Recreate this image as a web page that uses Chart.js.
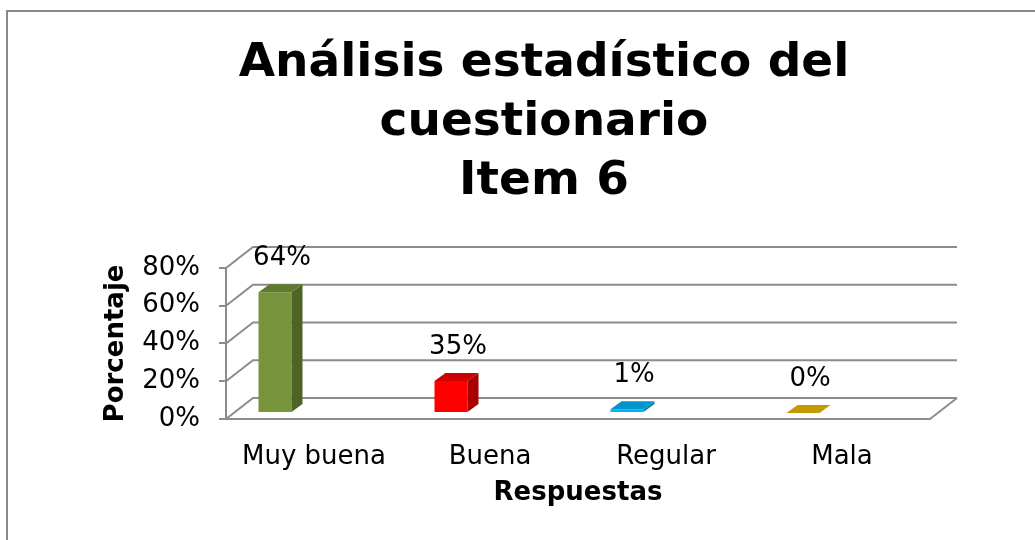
<!DOCTYPE html>
<html>
<head>
<meta charset="utf-8">
<script src="https://cdn.jsdelivr.net/npm/chart.js@4.4.1/dist/chart.umd.min.js"></script>
<style>
  body { margin: 0; background: #fff; }
  #wrap { width: 1035px; height: 540px; position: relative; }
</style>
</head>
<body>
<div id="wrap"><canvas id="itemChart"></canvas></div>
<script>
// data
const categories = ["Muy buena", "Buena", "Regular", "Mala"];
const barHeights = [64, 17, 2, 0];                 // bar heights as drawn
const valueLabels = ["64%", "35%", "1%", "0%"];    // labels printed above the bars
const yTicks = [0, 20, 40, 60, 80];

// styles
const frontColors = ["#77933c", "#ff0000", "#00b0f0", "#c39a00"];
const sideColors = ["#4f6228", "#a80000", "#0083b3", "#8f7100"];
const topColors = ["#5f7a2e", "#cc0000", "#0095cc", "#c39a00"];
const gridGray = "#8c8c8c";
const depth = { x: 27, y: -21 };     // depth of the 3d box
const barDepth = { x: 11, y: -8 };   // depth of each bar
const barShift = { x: -39, y: -6 };  // where the bars sit inside the box

Chart.defaults.font.family = "DejaVu Sans";
Chart.defaults.color = "#000";

const box3d = {
    id: "box3d",
    beforeDraw(chart) {
        const ctx = chart.ctx;
        ctx.save();
        ctx.fillStyle = "#fff";
        ctx.fillRect(0, 0, chart.width, chart.height);
        ctx.strokeStyle = "#8a8a8a";
        ctx.lineWidth = 2;
        ctx.beginPath();
        ctx.moveTo(7, chart.height + 5);
        ctx.lineTo(7, 11);
        ctx.lineTo(chart.width + 5, 11);
        ctx.stroke();
        ctx.restore();
    },
    beforeDatasetsDraw(chart) {
        const { ctx, chartArea: a, scales: { y } } = chart;
        ctx.save();
        ctx.strokeStyle = gridGray;
        ctx.lineWidth = 2;
        yTicks.forEach(t => {
            const py = y.getPixelForValue(t);
            ctx.beginPath();
            ctx.moveTo(a.left, py);
            ctx.lineTo(a.left + depth.x, py + depth.y);
            ctx.lineTo(a.right + depth.x, py + depth.y);
            ctx.stroke();
        });
        ctx.beginPath();
        ctx.moveTo(a.right, a.bottom);
        ctx.lineTo(a.right + depth.x, a.bottom + depth.y);
        ctx.stroke();
        ctx.restore();

        // bars are drawn shifted into the box
        ctx.save();
        ctx.translate(barShift.x, barShift.y);
    },
    afterDatasetsDraw(chart) {
        const ctx = chart.ctx;
        const meta = chart.getDatasetMeta(0);
        const bars = meta.data.map(b => b.getProps(["x", "y", "base", "width"], true));

        bars.forEach((b, i) => {
            const l = b.x - b.width / 2, r = b.x + b.width / 2;
            ctx.fillStyle = sideColors[i];
            ctx.beginPath();
            ctx.moveTo(r, b.base);
            ctx.lineTo(r + barDepth.x, b.base + barDepth.y);
            ctx.lineTo(r + barDepth.x, b.y + barDepth.y);
            ctx.lineTo(r, b.y);
            ctx.closePath();
            ctx.fill();

            ctx.fillStyle = topColors[i];
            ctx.beginPath();
            ctx.moveTo(l, b.y);
            ctx.lineTo(r, b.y);
            ctx.lineTo(r + barDepth.x, b.y + barDepth.y);
            ctx.lineTo(l + barDepth.x, b.y + barDepth.y);
            ctx.closePath();
            ctx.fill();
        });
        ctx.restore();

        // value labels
        ctx.save();
        ctx.font = "26px 'DejaVu Sans'";
        ctx.fillStyle = "#000";
        ctx.textAlign = "center";
        ctx.textBaseline = "alphabetic";
        bars.forEach((b, i) => {
            ctx.fillText(valueLabels[i], b.x + barShift.x + 7, b.y + barShift.y - 27);
        });
        ctx.restore();
    }
};

const ctx = document.getElementById("itemChart").getContext("2d");
const itemChart = new Chart(ctx, {
    type: "bar",
    data: {
        labels: categories,
        datasets: [{
            data: barHeights,
            backgroundColor: frontColors,
            borderWidth: 0,
            barPercentage: 0.1875,
            categoryPercentage: 1,
            clip: false
        }]
    },
    options: {
        responsive: true,
        maintainAspectRatio: false,
        animation: false,
        layout: { padding: { left: 53, right: 0, top: 12, bottom: 0 } },
        plugins: {
            legend: { display: false },
            tooltip: { enabled: false },
            title: {
                display: true,
                text: ["Análisis estadístico del", "cuestionario", "Item 6"],
                color: "#000",
                font: { size: 47, weight: "bold", lineHeight: 1.255 },
                padding: { top: 22, bottom: 57 }
            }
        },
        scales: {
            x: {
                grid: { display: false, drawTicks: false },
                border: { display: true, color: gridGray, width: 2 },
                ticks: { font: { size: 26 }, color: "#000", padding: 23, maxRotation: 0, autoSkip: false },
                title: {
                    display: true,
                    text: "Respuestas",
                    color: "#000",
                    font: { size: 26, weight: "bold" },
                    padding: { top: 0, bottom: 31 }
                },
                afterFit(scale) { scale.height = 121; }
            },
            y: {
                min: 0,
                max: 80,
                ticks: {
                    stepSize: 20,
                    font: { size: 26 },
                    color: "#000",
                    padding: 19,
                    callback: v => v + "%"
                },
                grid: { drawOnChartArea: false, drawTicks: true, tickLength: 7, color: gridGray, lineWidth: 2 },
                border: { display: true, color: gridGray, width: 2 },
                title: {
                    display: true,
                    text: "Porcentaje",
                    color: "#000",
                    font: { size: 26, weight: "bold" },
                    padding: { top: 48, bottom: 0 }
                },
                afterFit(scale) { scale.width = 173; }
            },
            y2: {
                position: "right",
                grid: { display: false },
                border: { display: false },
                ticks: { display: false },
                afterFit(scale) { scale.width = 105; }
            }
        }
    },
    plugins: [box3d]
});
</script>
</body>
</html>
